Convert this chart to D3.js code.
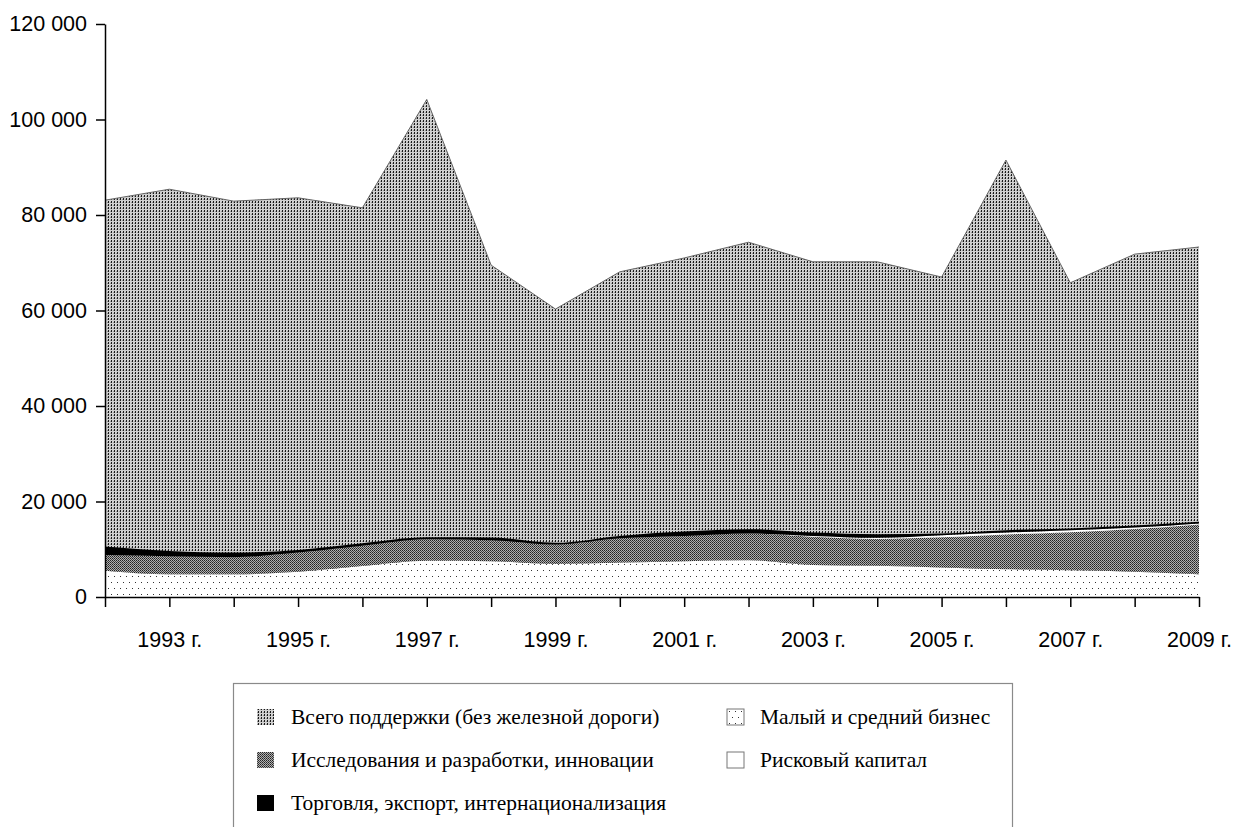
<!DOCTYPE html>
<html>
<head>
<meta charset="utf-8">
<script src="https://cdn.jsdelivr.net/npm/d3@7"></script>
<style>
  body { margin: 0; background: #fff; }
  svg { display: block; }
</style>
</head>
<body>
<div id="chart"></div>
<script>
// years on the x axis
var years = [1992, 1993, 1994, 1995, 1996, 1997, 1998, 1999, 2000, 2001, 2002, 2003, 2004, 2005, 2006, 2007, 2008, 2009]

var totalSupport  = [83100, 85400, 82900, 83600, 81500, 104200, 69500, 60300, 68100, 71000, 74300, 70200, 70200, 67000, 91500, 65800, 71800, 73300]
var smeSupport    = [5500, 4750, 4750, 5300, 6500, 7600, 7500, 6900, 7200, 7500, 7700, 6700, 6550, 6200, 5800, 5600, 5300, 4750]
var rndSupport    = [3300, 3800, 3600, 4000, 4250, 4500, 4400, 4100, 5100, 5300, 5600, 5900, 5600, 6300, 7300, 7950, 8950, 10450]
var ventureCap    = [0, 0, 0, 0, 0, 0, 0, 0, 0, 0, 0, 200, 250, 450, 400, 450, 300, 200]
var tradeExport   = [1750, 1100, 950, 550, 500, 400, 550, 350, 500, 900, 900, 700, 750, 350, 500, 350, 400, 350]

var yTicks = [0, 20000, 40000, 60000, 80000, 100000, 120000]
var labelYears = [1993, 1995, 1997, 1999, 2001, 2003, 2005, 2007, 2009]

var legendLeft = [
    {label: 'Всего поддержки (без железной дороги)', fill: 'url(#p-total)', stroke: 'none'},
    {label: 'Исследования и разработки, инновации', fill: 'url(#p-rnd)', stroke: 'none'},
    {label: 'Торговля, экспорт, интернационализация', fill: '#000', stroke: 'none'}
]
var legendRight = [
    {label: 'Малый и средний бизнес', fill: 'url(#p-sme)', stroke: '#777'},
    {label: 'Рисковый капитал', fill: '#fff', stroke: '#777'}
]

const width = 1234
const height = 827

var svg = d3.select('#chart').append('svg')
    .attr('width', width)
    .attr('height', height)

// fill patterns
var defs = svg.append('defs')
var pt = defs.append('pattern').attr('id', 'p-total').attr('patternUnits', 'userSpaceOnUse')
    .attr('width', 3).attr('height', 3)
pt.append('rect').attr('width', 3).attr('height', 3).attr('fill', '#d0d0d0')
pt.append('rect').attr('x', 0).attr('y', 0).attr('width', 1).attr('height', 2).attr('fill', '#1a1a1a')
pt.append('rect').attr('x', 2).attr('y', 1).attr('width', 1).attr('height', 1).attr('fill', '#999')

var pr = defs.append('pattern').attr('id', 'p-rnd').attr('patternUnits', 'userSpaceOnUse')
    .attr('width', 2).attr('height', 2)
pr.append('rect').attr('width', 2).attr('height', 2).attr('fill', '#b0b0b0')
pr.append('rect').attr('x', 0).attr('y', 0).attr('width', 1).attr('height', 1).attr('fill', '#222')
pr.append('rect').attr('x', 1).attr('y', 1).attr('width', 1).attr('height', 1).attr('fill', '#444')

var ps = defs.append('pattern').attr('id', 'p-sme').attr('patternUnits', 'userSpaceOnUse')
    .attr('width', 6).attr('height', 12)
ps.append('rect').attr('width', 6).attr('height', 12).attr('fill', '#fff')
ps.append('rect').attr('x', 0).attr('y', 0).attr('width', 1).attr('height', 1).attr('fill', '#333')
ps.append('rect').attr('x', 3).attr('y', 6).attr('width', 1).attr('height', 1).attr('fill', '#333')

var x = d3.scaleLinear().domain([1992, 2009]).range([105, 1199])
var y = d3.scaleLinear().domain([0, 120000]).range([597, 24])

// total support: plain area from zero
var totalArea = d3.area()
    .x(function(d, i) { return x(years[i]) })
    .y0(y(0))
    .y1(function(d) { return y(d) })
svg.append('path')
    .attr('d', totalArea(totalSupport))
    .attr('fill', 'url(#p-total)')
svg.append('path')
    .attr('d', d3.line().x(function(d, i) { return x(years[i]) }).y(function(d) { return y(d) })(totalSupport))
    .attr('fill', 'none')
    .attr('stroke', '#666')
    .attr('stroke-width', 1)

// components stacked at the bottom
var rows = years.map(function(yr, i) {
    return {year: yr, sme: smeSupport[i], rnd: rndSupport[i], vc: ventureCap[i], trade: tradeExport[i]}
})
var stack = d3.stack().keys(['sme', 'rnd', 'vc', 'trade'])
var layers = stack(rows)
var fills = {sme: 'url(#p-sme)', rnd: 'url(#p-rnd)', vc: '#fff', trade: '#000'}

var layerArea = d3.area()
    .curve(d3.curveMonotoneX)
    .x(function(d) { return x(d.data.year) })
    .y0(function(d) { return y(d[0]) })
    .y1(function(d) { return y(d[1]) })

svg.append('g').selectAll('path')
    .data(layers)
    .enter().append('path')
    .attr('d', layerArea)
    .attr('fill', function(d) { return fills[d.key] })

// axes
var fmt = d3.formatLocale({decimal: ',', thousands: ' ', grouping: [3], currency: ['', '']}).format(',d')

var yAxis = svg.append('g')
    .attr('transform', 'translate(105,0)')
    .call(d3.axisLeft(y).tickValues(yTicks).tickSize(9).tickSizeOuter(0).tickPadding(9).tickFormat(fmt))
var xAxis = svg.append('g')
    .attr('transform', 'translate(0,597)')
    .call(d3.axisBottom(x).tickValues(years).tickSize(10).tickSizeOuter(0).tickPadding(25)
        .tickFormat(function(d) { return labelYears.indexOf(d) >= 0 ? d + ' г.' : '' }))

svg.selectAll('.domain, .tick line').attr('stroke', '#000').attr('stroke-width', 1.5)
svg.selectAll('.tick text')
    .attr('fill', '#000')
    .style('font-family', '"Liberation Sans", Arial, sans-serif')
    .style('font-size', '21.5px')

// legend box
svg.append('rect')
    .attr('x', 233.5).attr('y', 683.5)
    .attr('width', 779).attr('height', 170)
    .attr('fill', '#fff')
    .attr('stroke', '#8a8a8a')
    .attr('stroke-width', 1.2)

function drawLegend(items, sx, tx) {
    var g = svg.append('g').selectAll('g')
        .data(items).enter().append('g')
        .attr('transform', function(d, i) { return 'translate(0,' + (717 + i * 43) + ')' })
    g.append('rect')
        .attr('x', sx).attr('y', -8).attr('width', 17).attr('height', 16)
        .attr('fill', function(d) { return d.fill })
        .attr('stroke', function(d) { return d.stroke })
    g.append('text')
        .attr('x', tx).attr('y', 7)
        .style('font-family', '"Liberation Serif", "Times New Roman", serif')
        .style('font-size', '21.5px')
        .attr('fill', '#000')
        .text(function(d) { return d.label })
}
drawLegend(legendLeft, 257, 291)
drawLegend(legendRight, 727, 760)
</script>
</body>
</html>
